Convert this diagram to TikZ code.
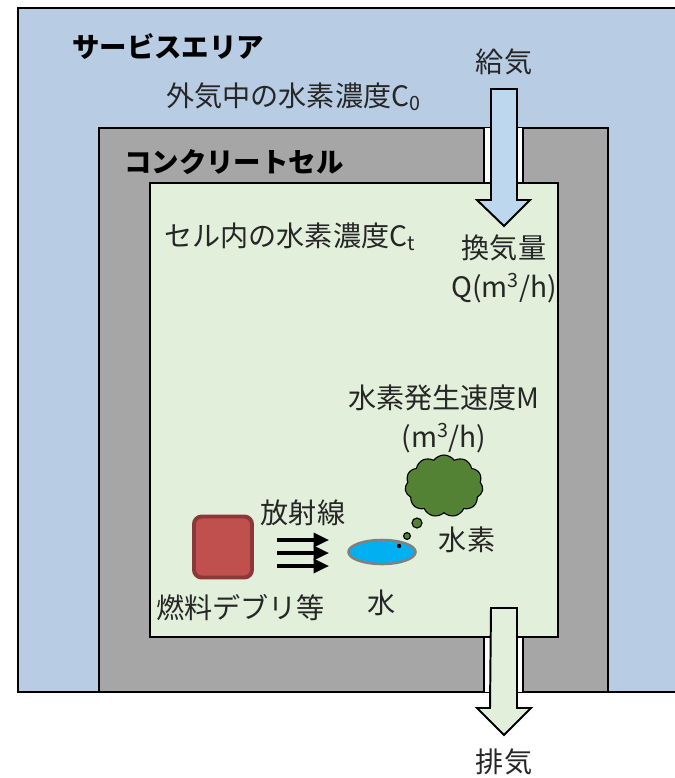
\documentclass[tikz,border=0pt]{standalone}
\usepackage{fontspec}
\setmainfont{Noto Sans CJK JP}
\usetikzlibrary{positioning, shapes.geometric, shapes.symbols, arrows.meta}
\definecolor{area-blue}{RGB}{184,204,228}
\definecolor{wall-gray}{RGB}{166,166,166}
\definecolor{cell-green}{RGB}{226,239,218}
\definecolor{air-blue}{RGB}{189,215,238}
\definecolor{debris-red}{RGB}{192,80,77}
\definecolor{debris-edge}{RGB}{140,56,54}
\definecolor{water-cyan}{RGB}{0,176,240}
\definecolor{gas-green}{RGB}{84,130,53}
\definecolor{label-gray}{RGB}{38,38,38}

\begin{document}
\begin{tikzpicture}[x=0.025cm, y=-0.025cm]
				\tikzset{wall/.style={draw, line width=1.4pt}}
				\tikzset{lbl/.style={text=label-gray, inner sep=0pt, font=\fontsize{20}{23}\selectfont}}
				\tikzset{title/.style={text=black, inner sep=0pt, font=\fontsize{19.5}{22}\selectfont\bfseries}}
				\tikzset{duct/.style={draw, line width=1.4pt, line join=miter}}
				\tikzset{ray/.style={-{Triangle[length=11pt, width=10pt]}, line width=2.2pt}}
				\tikzset{bubble/.style={circle, draw, fill=gas-green, line width=0.8pt, inner sep=0pt}}
				
				\clip (0,0) rectangle (675,778);
				
				% service area, concrete wall and cell
				\draw[wall, fill=area-blue] (18,8) rectangle (700,692);
				\draw[wall, fill=wall-gray] (99,128) rectangle (608,692);
				\fill[white] (484,128) rectangle (523,183);
				\fill[white] (484,637) rectangle (523,692);
				\draw[line width=1.4pt] (484,128) -- (484,183) (523,128) -- (523,183);
				\draw[line width=1.4pt] (484,637) -- (484,692) (523,637) -- (523,692);
				\draw[wall, fill=cell-green] (150,183) rectangle (558,637);
				
				% supply and exhaust ducts
				\draw[duct, fill=air-blue]
				(491,89)
				-- ++(26,0)
				-- ++(0,111)
				-- ++(13,0)
				-- ++(-26,26)
				-- ++(-27,-26)
				-- ++(14,0)
				-- cycle;
				\draw[duct, fill=cell-green]
				(491,608)
				-- ++(26,0)
				-- ++(0,100)
				-- ++(14,0)
				-- ++(-27,27)
				-- ++(-27,-27)
				-- ++(13,0)
				-- cycle;
				
				\node[title, anchor=west] (service) at (72,47) {サービスエリア};
				\node[lbl] (supply) at (504,62) {給気};
				\node[lbl, anchor=west] (outside) at (166,97) {外気中の水素濃度C\textsubscript{0}};
				\node[title, anchor=west] (concrete) at (124,162) {コンクリートセル};
				\node[lbl, anchor=west] (inside) at (164,237) {セル内の水素濃度C\textsubscript{t}};
				\node[lbl] (vent) at (504,248) {換気量};
				\node[lbl, below=0.28cm of vent] (vent unit) {Q(m\textsuperscript{3}/h)};
				\node[lbl] (exhaust) at (504,762) {排気};
				
				% hydrogen source
				\node[lbl] (rate) at (444,398) {水素発生速度M};
				\node[lbl, below=0.28cm of rate] (rate unit) {(m\textsuperscript{3}/h)};
				\node[cloud, cloud puffs=11, cloud puff arc=110, aspect=1.3, draw, fill=gas-green,
				line width=0.8pt, minimum width=1.95cm, minimum height=1.55cm] (hydrogen) at (444,486) {};
				\node[bubble, minimum size=0.25cm] (big bubble) at (417,523) {};
				\node[bubble, minimum size=0.17cm] (small bubble) at (407,536) {};
				\node[lbl] (hydrogen label) at (467,540) {水素};
				
				\node[ellipse, draw=gray, line width=1.8pt, fill=water-cyan,
				minimum width=1.675cm, minimum height=0.6cm] (water) at (382,552) {};
				\fill (399,546) circle (2.2);
				\node[lbl, below=0.6cm of water] (water label) {水};
				
				\node[rectangle, rounded corners=5.5pt, draw=debris-edge, line width=2.8pt, fill=debris-red,
				minimum width=1.45cm, minimum height=1.525cm] (debris) at (223,547) {};
				\node[lbl, anchor=west] (debris label) at (156,608) {燃料デブリ等};
				
				% radiation
				\foreach \y [count=\i] in {540,553,566} {
					\coordinate (ray\i) at (277,\y);
					\coordinate (hit\i) at (329,\y);
					\draw[ray] (ray\i) -- (hit\i);
				}
				\node[lbl] (radiation) at (303,513) {放射線};
			\end{tikzpicture}
\end{document}
